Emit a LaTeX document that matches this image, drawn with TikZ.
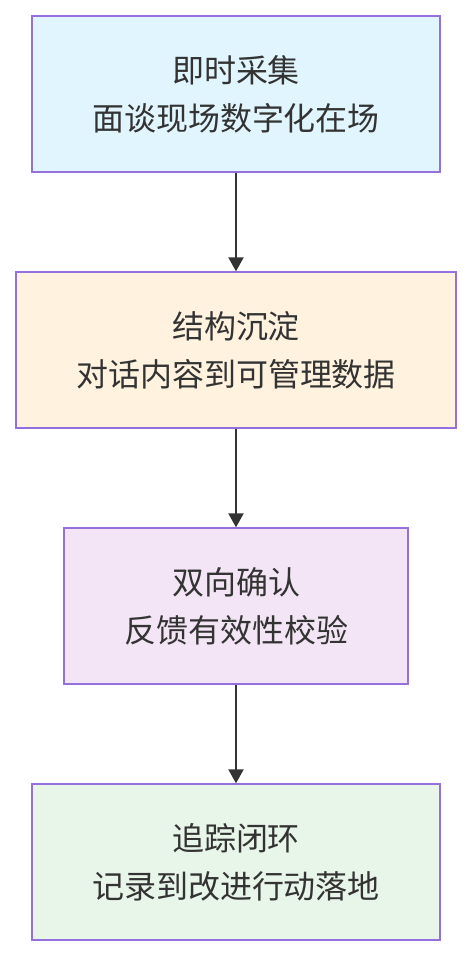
\documentclass[tikz,border=0pt]{standalone}
\usepackage{fontspec}
\setmainfont{Noto Sans CJK SC}
\usetikzlibrary{arrows.meta}
\definecolor{edgec}{HTML}{9370DB}
\definecolor{txt}{HTML}{333333}
\definecolor{fblue}{HTML}{E1F5FE}
\definecolor{forange}{HTML}{FFF3E0}
\definecolor{fpurple}{HTML}{F3E5F5}
\definecolor{fgreen}{HTML}{E8F5E9}
\tikzset{
  box/.style={draw=edgec, line width=1.3pt, minimum height=156pt, inner sep=0pt, align=center, text=txt,
    font=\fontsize{32pt}{48pt}\selectfont},
  conn/.style={draw=txt, line width=2pt, -{Triangle[length=14pt,width=15pt]}}
}
\begin{document}
\begin{tikzpicture}[x=1pt,y=-1pt]
\useasboundingbox (0,0) rectangle (472,956);
\node[box, fill=fblue, minimum width=408pt] (a) at (236,94) {即时采集\\面谈现场数字化在场};
\node[box, fill=forange, minimum width=440pt] (b) at (236,350) {结构沉淀\\对话内容到可管理数据};
\node[box, fill=fpurple, minimum width=344pt] (c) at (236,606) {双向确认\\反馈有效性校验};
\node[box, fill=fgreen, minimum width=408pt] (d) at (236,862) {追踪闭环\\记录到改进行动落地};
\draw[conn] (a) -- (b);
\draw[conn] (b) -- (c);
\draw[conn] (c) -- (d);
\end{tikzpicture}
\end{document}
